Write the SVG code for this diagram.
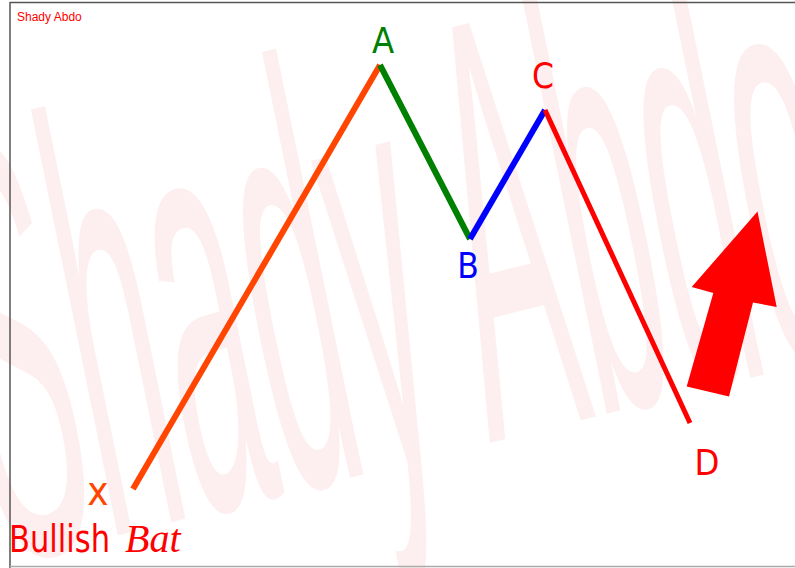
<svg xmlns="http://www.w3.org/2000/svg" width="795" height="568" viewBox="0 0 795 568">
<style>
.lbl{font-family:"DejaVu Sans Condensed","DejaVu Sans",sans-serif;}
.leg{fill:none;stroke-linecap:butt;stroke-linejoin:miter;}
</style>
<rect x="0" y="0" width="795" height="568" fill="#ffffff"/>
<g id="watermark">
<text x="0" y="0" transform="matrix(1.067,-0.266,0.8,3.92,0,565)" font-family="Liberation Sans, sans-serif" font-size="150" fill="#fdefef">Shady Abdo</text>
</g>
<g id="frame" fill="none">
<line x1="10" y1="2.5" x2="795" y2="2.5" stroke="#555" stroke-width="1.5"/>
<line x1="10" y1="2" x2="10" y2="568" stroke="#555" stroke-width="1.5"/>
<line x1="10" y1="566.5" x2="795" y2="566.5" stroke="#aaa" stroke-width="1.5"/>
</g>
<g id="connectors">
<line class="leg" x1="133" y1="489" x2="380" y2="65" stroke="#ff4500" stroke-width="6"/>
<line class="leg" x1="380" y1="65" x2="470" y2="239" stroke="#008000" stroke-width="6"/>
<line class="leg" x1="470" y1="239" x2="545" y2="110" stroke="#0000ff" stroke-width="6"/>
<line class="leg" x1="545" y1="110" x2="690" y2="423" stroke="#ff0000" stroke-width="5"/>
</g>
<g id="node-X"><text class="lbl" x="98" y="505" text-anchor="middle" font-size="40" fill="#ff4500">x</text></g>
<g id="node-A"><text class="lbl" x="383" y="53" text-anchor="middle" font-size="36" fill="#008000">A</text></g>
<g id="node-B"><text class="lbl" x="468" y="278" text-anchor="middle" font-size="35" fill="#0000ff">B</text></g>
<g id="node-C"><text class="lbl" x="543" y="88" text-anchor="middle" font-size="35" fill="#ff0000">C</text></g>
<g id="node-D"><text class="lbl" x="707" y="475" text-anchor="middle" font-size="36" fill="#ff0000">D</text></g>
<g id="title">
<text x="17" y="21" font-family="Liberation Sans, sans-serif" font-size="12" fill="#ff0000">Shady Abdo</text>
<text class="lbl" x="9" y="552" font-size="37" fill="#ff0000" textLength="101" lengthAdjust="spacingAndGlyphs">Bullish</text>
<text x="125" y="552" font-family="Liberation Serif, serif" font-style="italic" font-size="40" fill="#ff0000">Bat</text>
</g>
<g id="arrow">
<polygon points="757.5,211.5 776.7,307 753,302.5 729,396.5 686.7,386.5 713.3,293 691.7,287" fill="#ff0000"/>
</g>
</svg>
